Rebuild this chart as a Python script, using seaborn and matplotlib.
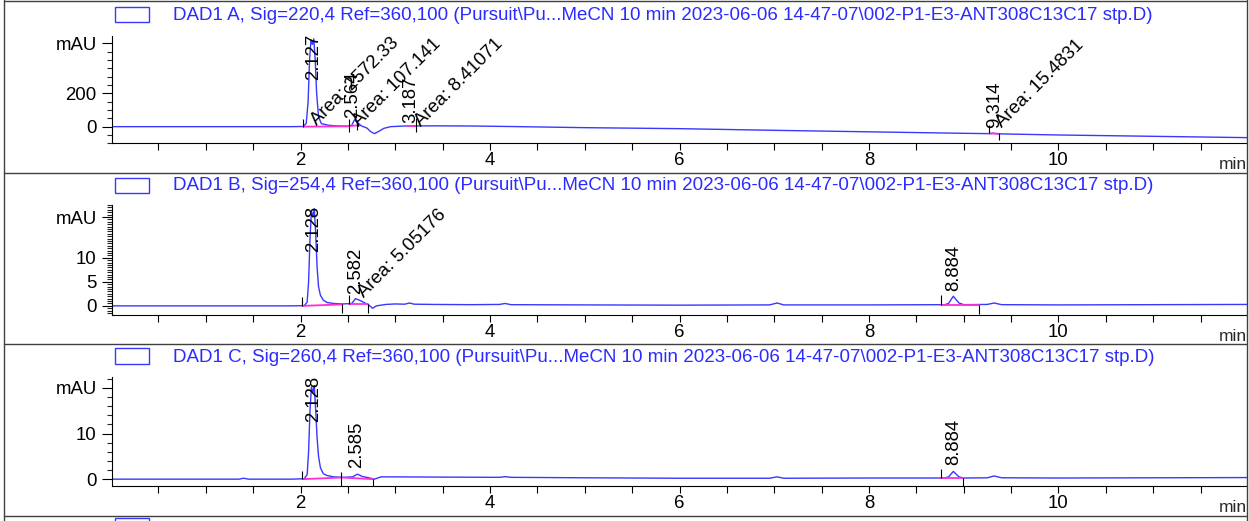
import matplotlib
matplotlib.use("Agg")
import matplotlib.pyplot as plt
import seaborn as sns
from matplotlib.patches import Rectangle
from matplotlib.lines import Line2D
from matplotlib.ticker import MultipleLocator, FixedLocator, FixedFormatter

sns.set_style("ticks")
plt.rcParams['font.family'] = ['Liberation Sans', 'DejaVu Sans']

# ---------------- data ----------------
titles = [
    r"DAD1 A, Sig=220,4 Ref=360,100 (Pursuit\Pu...MeCN 10 min 2023-06-06 14-47-07\002-P1-E3-ANT308C13C17 stp.D)",
    r"DAD1 B, Sig=254,4 Ref=360,100 (Pursuit\Pu...MeCN 10 min 2023-06-06 14-47-07\002-P1-E3-ANT308C13C17 stp.D)",
    r"DAD1 C, Sig=260,4 Ref=360,100 (Pursuit\Pu...MeCN 10 min 2023-06-06 14-47-07\002-P1-E3-ANT308C13C17 stp.D)",
]

# Panel A (220 nm)
time_a = [0.0, 1.0, 1.9, 2.03, 2.06, 2.08, 2.095, 2.11, 2.125, 2.14, 2.155, 2.17, 2.19, 2.22,
          2.3, 2.4, 2.5, 2.54, 2.57, 2.60, 2.64, 2.70, 2.74, 2.78, 2.82, 2.88, 2.95, 3.1, 3.4,
          3.8, 4.2, 5.0, 6.0, 7.0, 8.0, 9.0, 9.28, 9.31, 9.35, 10.0, 11.0, 12.0]
sig_a = [0, 0, 0, 1, 20, 150, 400, 522, 495, 528, 400, 200, 60, 18,
         8, 4, 3, 8, 42, 25, 5, -8, -30, -42, -30, -10, 0, 4, 5,
         4, 1, -6, -12, -22, -31, -40, -42, -39, -43, -50, -58, -66]
base_a_t0 = [2.03, 2.51, 3.14, 9.27]
base_a_y0 = [0, 3, 5, -41]
base_a_t1 = [2.51, 2.61, 3.22, 9.37]
base_a_y1 = [2, 8, 5, -42]
mark_a_t = [2.03, 2.51, 2.60, 3.22, 9.27, 9.37]
mark_a_lo = [-2, -32, -20, -32, -40, -80]
mark_a_hi = [46, 46, 40, 52, 10, -40]
rt_a_text = ["2.127", "2.564", "3.187", "9.314"]
rt_a_t = [2.137, 2.555, 3.165, 9.325]
rt_a_y = [280, 55, 20, -10]
area_a_text = ["Area: 2572.33", "Area: 107.141", "Area: 8.41071", "Area: 15.4831"]
area_a_t = [2.2, 2.65, 3.3, 9.43]
area_a_y = [-14, -22, -22, -24]

# Panel B (254 nm)
time_b = [0.0, 1.0, 1.9, 2.04, 2.07, 2.085, 2.10, 2.115, 2.13, 2.145, 2.16, 2.175, 2.19, 2.21,
          2.24, 2.28, 2.35, 2.45, 2.54, 2.58, 2.62, 2.68, 2.72, 2.76, 2.80, 2.9, 3.0, 3.1, 3.15,
          3.2, 3.4, 3.8, 4.1, 4.16, 4.22, 5.0, 6.0, 6.95, 7.03, 7.1, 8.0, 8.8, 8.84, 8.89, 8.95,
          9.0, 9.25, 9.32, 9.4, 10.0, 11.0, 12.0]
sig_b = [0, 0, 0, 0.05, 0.8, 5, 14, 19.8, 18.5, 20.2, 15, 8, 4, 2.2,
         1.2, 0.7, 0.5, 0.4, 0.5, 1.5, 1.2, 0.6, 0.2, -0.5, 0.0, 0.3, 0.4, 0.35, 0.6,
         0.35, 0.3, 0.25, 0.3, 0.5, 0.25, 0.2, 0.15, 0.2, 0.6, 0.2, 0.2, 0.25, 0.5, 2.0, 0.6,
         0.25, 0.3, 0.6, 0.25, 0.2, 0.25, 0.3]
base_b_t0 = [2.02, 2.51, 8.76]
base_b_y0 = [0.0, 0.45, 0.2]
base_b_t1 = [2.44, 2.71, 9.16]
base_b_y1 = [0.3, 0.45, 0.2]
mark_b_t = [2.02, 2.44, 2.51, 2.71, 8.76, 9.16]
mark_b_lo = [0.0, -1.5, 0.45, -1.5, 0.2, -1.7]
mark_b_hi = [1.9, 0.3, 2.3, 0.45, 2.2, 0.2]
rt_b_text = ["2.128", "2.582", "8.884"]
rt_b_t = [2.137, 2.585, 8.9]
rt_b_y = [11.3, 2.4, 3.0]
area_b_text = ["Area: 5.05176"]
area_b_t = [2.7]
area_b_y = [1.0]

# Panel C (260 nm)
time_c = [0.0, 1.0, 1.35, 1.4, 1.45, 1.9, 2.04, 2.07, 2.085, 2.10, 2.115, 2.13, 2.145, 2.16,
          2.175, 2.19, 2.21, 2.24, 2.28, 2.35, 2.45, 2.55, 2.6, 2.65, 2.72, 2.78, 2.85, 3.0,
          3.5, 4.1, 4.16, 4.22, 5.0, 6.0, 6.95, 7.03, 7.1, 8.0, 8.8, 8.84, 8.89, 8.95, 9.0,
          9.25, 9.32, 9.4, 10.0, 11.0, 12.0]
sig_c = [0, 0, 0, 0.2, 0, 0, 0.1, 1, 6, 15, 20.2, 19, 20.5, 15,
         9, 5, 2.5, 1.2, 0.8, 0.5, 0.4, 0.5, 1.1, 0.6, 0.3, 0.0, 0.5, 0.5,
         0.45, 0.4, 0.55, 0.4, 0.3, 0.2, 0.2, 0.5, 0.2, 0.25, 0.25, 0.5, 1.7, 0.5, 0.25,
         0.3, 0.7, 0.3, 0.25, 0.3, 0.35]
base_c_t0 = [2.02, 2.43, 8.76]
base_c_y0 = [0.0, 0.35, 0.25]
base_c_t1 = [2.43, 2.77, 8.99]
base_c_y1 = [0.35, 0.0, 0.25]
mark_c_t = [2.02, 2.43, 2.77, 8.76, 8.99]
mark_c_lo = [0.0, -1.5, -1.5, 0.25, -1.5]
mark_c_hi = [1.8, 1.5, 0.0, 2.2, 0.25]
rt_c_text = ["2.128", "2.585", "8.884"]
rt_c_t = [2.137, 2.59, 8.9]
rt_c_y = [12.6, 2.5, 3.0]
area_c_text = []
area_c_t = []
area_c_y = []

ylims = [(-100, 545), (-1.9, 21.0), (-1.5, 22.4)]
ymajor = [[0, 200, 500], [0, 5, 10, 18.5], [0, 10, 20]]
ymajor_lbl = [["0", "200", "mAU"], ["0", "5", "10", "mAU"], ["0", "10", "mAU"]]
yminor_step = [50, 0.5, 2]

# ---------------- layout ----------------
W, H = 1249, 521
fig = plt.figure(figsize=(W / 100, H / 100), dpi=100)
fig.patch.set_facecolor("white")

BLUE = "#3838ff"
TITLE_BLUE = "#2b2bff"
PINK = "#ff2fd0"
FS = 13.4

ax_px = [(36, 143.3), (205, 315), (377, 486)]  # top, bottom (px)
title_y = [15, 186, 357]
box_y = [(7, 22), (178, 193), (348, 364)]

panels = [
    (time_a, sig_a, base_a_t0, base_a_y0, base_a_t1, base_a_y1, mark_a_t, mark_a_lo, mark_a_hi,
     rt_a_text, rt_a_t, rt_a_y, area_a_text, area_a_t, area_a_y),
    (time_b, sig_b, base_b_t0, base_b_y0, base_b_t1, base_b_y1, mark_b_t, mark_b_lo, mark_b_hi,
     rt_b_text, rt_b_t, rt_b_y, area_b_text, area_b_t, area_b_y),
    (time_c, sig_c, base_c_t0, base_c_y0, base_c_t1, base_c_y1, mark_c_t, mark_c_lo, mark_c_hi,
     rt_c_text, rt_c_t, rt_c_y, area_c_text, area_c_t, area_c_y),
]

x_left, x_right = 112, 1247
for i, p in enumerate(panels):
    (tt, ss, b_t0, b_y0, b_t1, b_y1, m_t, m_lo, m_hi,
     rt_txt, rt_t, rt_y, ar_txt, ar_t, ar_y) = p
    top, bot = ax_px[i]
    ax = fig.add_axes([x_left / W, 1 - bot / H, (x_right - x_left) / W, (bot - top) / H])
    ax.set_facecolor("none")
    sns.lineplot(x=tt, y=ss, ax=ax, color=BLUE, linewidth=1.0, estimator=None, sort=False)
    for a0, y0, a1, y1 in zip(b_t0, b_y0, b_t1, b_y1):
        ax.plot([a0, a1], [y0, y1], color=PINK, lw=1.3, zorder=3)
    ax.vlines(m_t, m_lo, m_hi, colors="black", lw=0.8, zorder=4)
    for txt, t, y in zip(rt_txt, rt_t, rt_y):
        ax.text(t, y, txt, rotation=90, ha="center", va="bottom", fontsize=FS,
                color="black", clip_on=False)
    for txt, t, y in zip(ar_txt, ar_t, ar_y):
        ax.text(t, y, txt, rotation=45, rotation_mode="anchor", ha="left", va="bottom",
                fontsize=FS, color="black", clip_on=False)
    ax.set_xlim(0.01, 11.99)
    ax.set_ylim(*ylims[i])
    ax.xaxis.set_major_locator(MultipleLocator(2))
    ax.xaxis.set_minor_locator(MultipleLocator(0.5))
    ax.yaxis.set_major_locator(FixedLocator(ymajor[i]))
    ax.yaxis.set_major_formatter(FixedFormatter(ymajor_lbl[i]))
    ax.yaxis.set_minor_locator(MultipleLocator(yminor_step[i]))
    ax.tick_params(axis="x", which="both", direction="out", length=4.8, width=0.8,
                   labelsize=FS, pad=1.5, colors="black")
    ax.tick_params(axis="y", which="major", direction="out", length=7, width=0.8,
                   labelsize=FS, pad=4, colors="black")
    ax.tick_params(axis="y", which="minor", direction="out", length=3.5, width=0.8)
    for s in ["top", "right"]:
        ax.spines[s].set_visible(False)
    for s in ["left", "bottom"]:
        ax.spines[s].set_color("black")
        ax.spines[s].set_linewidth(0.8)
    ax.set_xlabel("")
    ax.set_ylabel("")
    ax.annotate("min", xy=(1, 0), xycoords="axes fraction", xytext=(0, -10),
                textcoords="offset points", ha="right", va="top", fontsize=12.5)
    # legend box + title
    y0b, y1b = box_y[i]
    fig.add_artist(Rectangle((115 / W, 1 - y1b / H), 34 / W, (y1b - y0b) / H,
                             transform=fig.transFigure, fill=False, edgecolor=BLUE, lw=1.0))
    fig.text(173 / W, 1 - title_y[i] / H, titles[i], ha="left", va="center",
             fontsize=13.5, color=TITLE_BLUE)

# fourth (cut-off) panel legend box
fig.add_artist(Rectangle((115 / W, 1 - 530 / H), 34 / W, 12 / H,
                         transform=fig.transFigure, fill=False, edgecolor=BLUE, lw=1.0))

# frame lines
FR = "#404040"
for yy in [0.8, 172.5, 344, 515.7]:
    fig.add_artist(Line2D([4 / W, 1247 / W], [1 - yy / H, 1 - yy / H],
                          transform=fig.transFigure, color=FR, lw=1.0))
for xx in [4, 1247]:
    fig.add_artist(Line2D([xx / W, xx / W], [0, 1], transform=fig.transFigure, color=FR, lw=1.0))

fig.savefig("out.png", dpi=100, facecolor="white")
